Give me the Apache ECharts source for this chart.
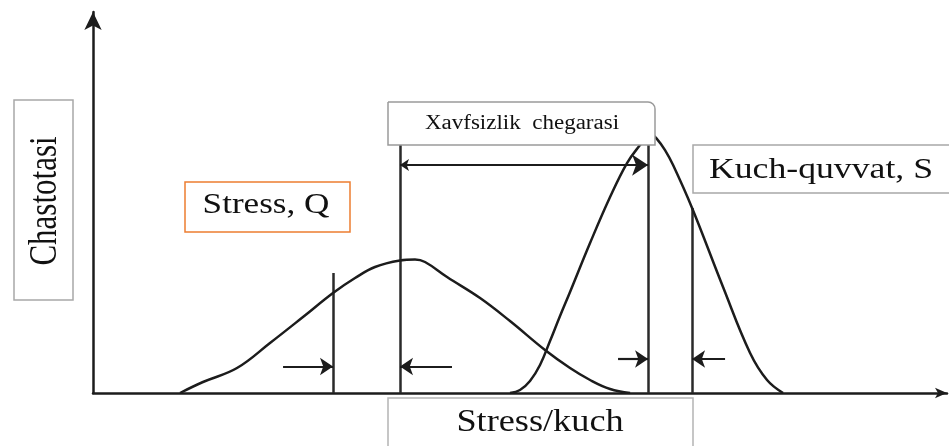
<!DOCTYPE html>
<html><head><meta charset="utf-8">
<script src="https://cdn.jsdelivr.net/npm/echarts@6/dist/echarts.min.js"></script>
<style>html,body{margin:0;padding:0;background:#fff}#chart{width:949px;height:446px}</style>
</head><body><div id="chart"></div>
<script>
// Stress distribution Q: frequency against stress/strength level
const stressX = [10.26, 12.97, 16.98, 20.87, 24.76, 28.30, 30.90, 33.25, 36.20, 37.97, 39.15, 41.75, 45.64, 49.17, 53.30, 56.25, 58.61, 60.97, 63.33];
const stressY = [0, 2.94, 6.68, 13.37, 20.32, 26.74, 30.75, 33.69, 35.43, 35.70, 35.03, 31.02, 25.40, 19.25, 11.50, 6.68, 3.48, 1.07, 0];

// Strength distribution S
const strengthX = [49.17, 50.35, 51.53, 52.71, 53.89, 55.07, 56.25, 58.61, 60.97, 62.97, 64.50, 65.33, 65.92, 66.51, 67.45, 68.40, 70.64, 74.29, 77.48, 79.48, 81.37];
const strengthY = [0, 0.80, 3.21, 7.49, 13.90, 20.59, 27.01, 40.11, 52.41, 61.50, 66.31, 68.45, 68.98, 67.91, 64.97, 60.96, 49.47, 28.34, 10.70, 3.48, 0];

// Vertical reference lines: position and height
const markerX = [28.30, 36.20, 65.45, 70.64];
const markerTop = [32.09, 66.31, 66.31, 49.47];

// Safety margin arrow level (between the stress mean and the strength limit)
const marginLevel = 60.96;

// Small pointer arrows: [from, to, level]
const pointers = [
  [22.41, 28.30, 7.09],
  [42.33, 36.20, 7.09],
  [61.91, 65.45, 9.09],
  [74.53, 70.64, 9.09]
];

const yTitle = 'Chastotasi';
const xTitle = 'Stress/kuch';
const stressName = 'Stress, Q';
const strengthName = 'Kuch-quvvat, S';
const marginName = 'Xavfsizlik  chegarasi';

const ink = '#1c1c1c';
const serif = '"Liberation Serif", "Times New Roman", serif';

const zip = (xs, ys) => xs.map((x, i) => [x, ys[i]]);

const chart = echarts.init(document.getElementById('chart'));

const hiddenAxis = {
  type: 'value', min: 0,
  splitLine: { show: false }, axisTick: { show: false }, axisLabel: { show: false }
};

function box(x, y, w, h, stroke, r) {
  return {
    type: 'rect', z: 100,
    shape: { x: x, y: y, width: w, height: h, r: r || 0 },
    style: { fill: '#fff', stroke: stroke, lineWidth: 1.5 }
  };
}
function label(text, x, y, size, sx, sy, rot) {
  return {
    type: 'text', z: 101, x: x, y: y,
    rotation: rot || 0, scaleX: sx, scaleY: sy,
    style: { text: text, fill: '#111', font: size + 'px ' + serif, align: 'center', verticalAlign: 'middle' }
  };
}

chart.setOption({
  animation: false,
  backgroundColor: '#fff',
  grid: { left: 93, right: 2, top: 12, bottom: 53 },
  xAxis: Object.assign({}, hiddenAxis, {
    max: 100.7,
    axisLine: { show: true, symbol: ['none', 'arrow'], symbolSize: [8, 12], lineStyle: { color: ink, width: 2.5 } }
  }),
  yAxis: Object.assign({}, hiddenAxis, {
    max: 101.9,
    axisLine: { show: true, symbol: ['none', 'arrow'], symbolSize: [13, 18], lineStyle: { color: ink, width: 2.5 } }
  }),
  series: [
    {
      type: 'line', data: zip(stressX, stressY), smooth: 0.4,
      symbol: 'none', lineStyle: { color: ink, width: 2.5 }
    },
    {
      type: 'line', data: zip(strengthX, strengthY), smooth: 0.4,
      symbol: 'none', lineStyle: { color: ink, width: 2.5 }
    },
    {
      type: 'lines', coordinateSystem: 'cartesian2d', symbol: 'none',
      lineStyle: { color: '#2a2a2a', width: 2.5, opacity: 1 },
      data: markerX.map((x, i) => ({ coords: [[x, 0], [x, markerTop[i]]] }))
    },
    {
      type: 'lines', coordinateSystem: 'cartesian2d', symbol: ['arrow', 'arrow'], symbolSize: [9, 16],
      lineStyle: { color: ink, width: 2.2, opacity: 1 },
      itemStyle: { color: ink },
      data: [{ coords: [[markerX[1], marginLevel], [markerX[2], marginLevel]] }]
    },
    {
      type: 'lines', coordinateSystem: 'cartesian2d', symbol: ['none', 'arrow'], symbolSize: [9, 13],
      lineStyle: { color: ink, width: 2.2, opacity: 1 },
      itemStyle: { color: ink },
      data: pointers.map(p => ({ coords: [[p[0], p[2]], [p[1], p[2]]] }))
    }
  ],
  graphic: [
    box(14, 100, 59, 200, '#a8a8a8'),
    label(yTitle, 45, 201, 31, 1, 1.3, Math.PI / 2),
    box(185, 182, 165, 50, '#ED7D31'),
    label(stressName, 266, 205, 30, 1.17, 1),
    box(388, 102, 267, 43, '#9a9a9a', [0, 7, 0, 0]),
    label(marginName, 522, 123.5, 20, 1.15, 1),
    box(693, 145, 262, 48, '#a8a8a8'),
    label(strengthName, 821, 170, 30, 1.19, 1),
    box(388, 398, 305, 60, '#b4b4b4'),
    label(xTitle, 540, 422.5, 31, 1.17, 1)
  ]
});
</script>
</body></html>
